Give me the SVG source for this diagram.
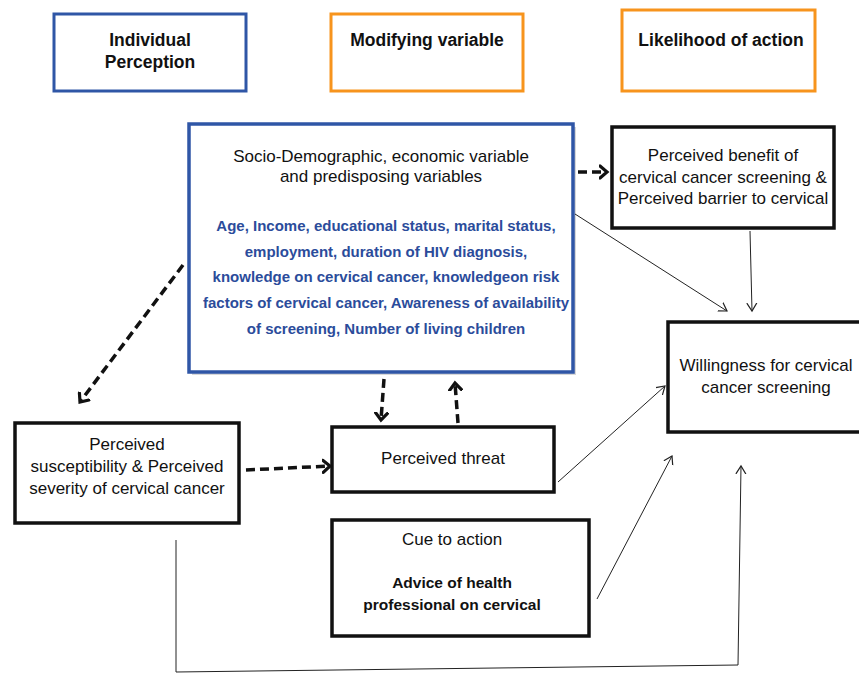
<svg xmlns="http://www.w3.org/2000/svg" width="859" height="673" viewBox="0 0 859 673">
<defs>
<marker id="dashHead" markerUnits="userSpaceOnUse" markerWidth="16" markerHeight="16" viewBox="-8 -8 16 16" refX="0" refY="0" orient="auto">
<path d="M-7,-6 L0,0 L-7,6" fill="none" stroke="#111" stroke-width="3.2" stroke-linecap="round" stroke-linejoin="miter"/>
</marker>
<marker id="thinHead" markerUnits="userSpaceOnUse" markerWidth="16" markerHeight="16" viewBox="-8 -8 16 16" refX="0" refY="0" orient="auto">
<path d="M-8,-5 L0,0 L-8,5" fill="none" stroke="#222" stroke-width="1.2"/>
</marker>
</defs>
<style>
.hdr{fill:#fff;stroke-width:3}
.blue{stroke:#2f56a6}
.orange{stroke:#f7941d}
.box{fill:#fff;stroke:#111;stroke-width:3.5}
.t{font-family:"Liberation Sans",Arial,sans-serif;font-size:17px;fill:#111;text-anchor:middle}
.hb{font-family:"Liberation Sans",Arial,sans-serif;font-size:17.5px;font-weight:bold;fill:#111;text-anchor:middle}
.cb{font-family:"Liberation Sans",Arial,sans-serif;font-size:15.5px;font-weight:bold;fill:#111;text-anchor:middle}
.bt{font-family:"Liberation Sans",Arial,sans-serif;font-size:15px;font-weight:bold;fill:#2b4c9b;text-anchor:middle}
.dash{fill:none;stroke:#111;stroke-width:3.5;stroke-dasharray:9 5;marker-end:url(#dashHead)}
.thin{fill:none;stroke:#222;stroke-width:1;marker-end:url(#thinHead)}
</style>
<rect width="859" height="673" fill="#fff"/>

<g id="hdr-individual">
<rect class="hdr blue" x="54" y="14" width="192" height="77"/>
<text class="hb" x="150" y="46">Individual</text>
<text class="hb" x="150" y="68">Perception</text>
</g>
<g id="hdr-modifying">
<rect class="hdr orange" x="331" y="14" width="192" height="77"/>
<text class="hb" x="427" y="46">Modifying variable</text>
</g>
<g id="hdr-likelihood">
<rect class="hdr orange" x="622" y="10" width="193" height="81"/>
<text class="hb" x="721" y="46">Likelihood of action</text>
</g>

<g id="socio">
<rect x="192" y="127" width="384" height="248" fill="#d8d8d8"/>
<rect x="189" y="124" width="384" height="248" fill="#fff" stroke="#2f56a6" stroke-width="3.5"/>
<text class="t" x="381" y="162">Socio-Demographic, economic variable</text>
<text class="t" x="381" y="182">and predisposing variables</text>
<text class="bt" x="386" y="231">Age, Income, educational status, marital status,</text>
<text class="bt" x="386" y="257">employment, duration of HIV diagnosis,</text>
<text class="bt" x="386" y="282">knowledge on cervical cancer, knowledgeon risk</text>
<text class="bt" x="386" y="308">factors of cervical cancer, Awareness of availability</text>
<text class="bt" x="386" y="334">of screening, Number of living children</text>
</g>

<g id="benefit">
<rect class="box" x="612" y="127" width="222" height="101"/>
<text class="t" x="723" y="161">Perceived benefit of</text>
<text class="t" x="723" y="183">cervical cancer screening &amp;</text>
<text class="t" x="723" y="204">Perceived barrier to cervical</text>
</g>

<g id="willingness">
<rect class="box" x="668" y="322" width="195" height="110"/>
<text class="t" x="766" y="371">Willingness for cervical</text>
<text class="t" x="766" y="393">cancer screening</text>
</g>

<g id="susceptibility">
<rect class="box" x="15" y="423" width="224" height="100"/>
<text class="t" x="127" y="450">Perceived</text>
<text class="t" x="127" y="472">susceptibility &amp; Perceived</text>
<text class="t" x="127" y="494">severity of cervical cancer</text>
</g>

<g id="threat">
<rect class="box" x="332" y="427" width="222" height="65"/>
<text class="t" x="443" y="464">Perceived threat</text>
</g>

<g id="cue">
<rect class="box" x="332" y="520" width="257" height="116"/>
<text class="t" x="452" y="545">Cue to action</text>
<text class="cb" x="452" y="588">Advice of health</text>
<text class="cb" x="452" y="610">professional on cervical</text>
</g>

<g id="connectors">
<path class="dash" d="M578,172 L607,172"/>
<path class="dash" d="M183,265 L80,402"/>
<path class="dash" d="M384,379 L381,420"/>
<path class="dash" d="M458,423 L455,383"/>
<path class="dash" d="M246,470 L330,466"/>
<path class="thin" d="M575,214 L727,311"/>
<path class="thin" d="M750,231 L752,311"/>
<path class="thin" d="M558,482 L665,386"/>
<path class="thin" d="M597,599 L672,456"/>
<path class="thin" d="M176,540 L176,672 L738,665 L741,466"/>
</g>
</svg>
